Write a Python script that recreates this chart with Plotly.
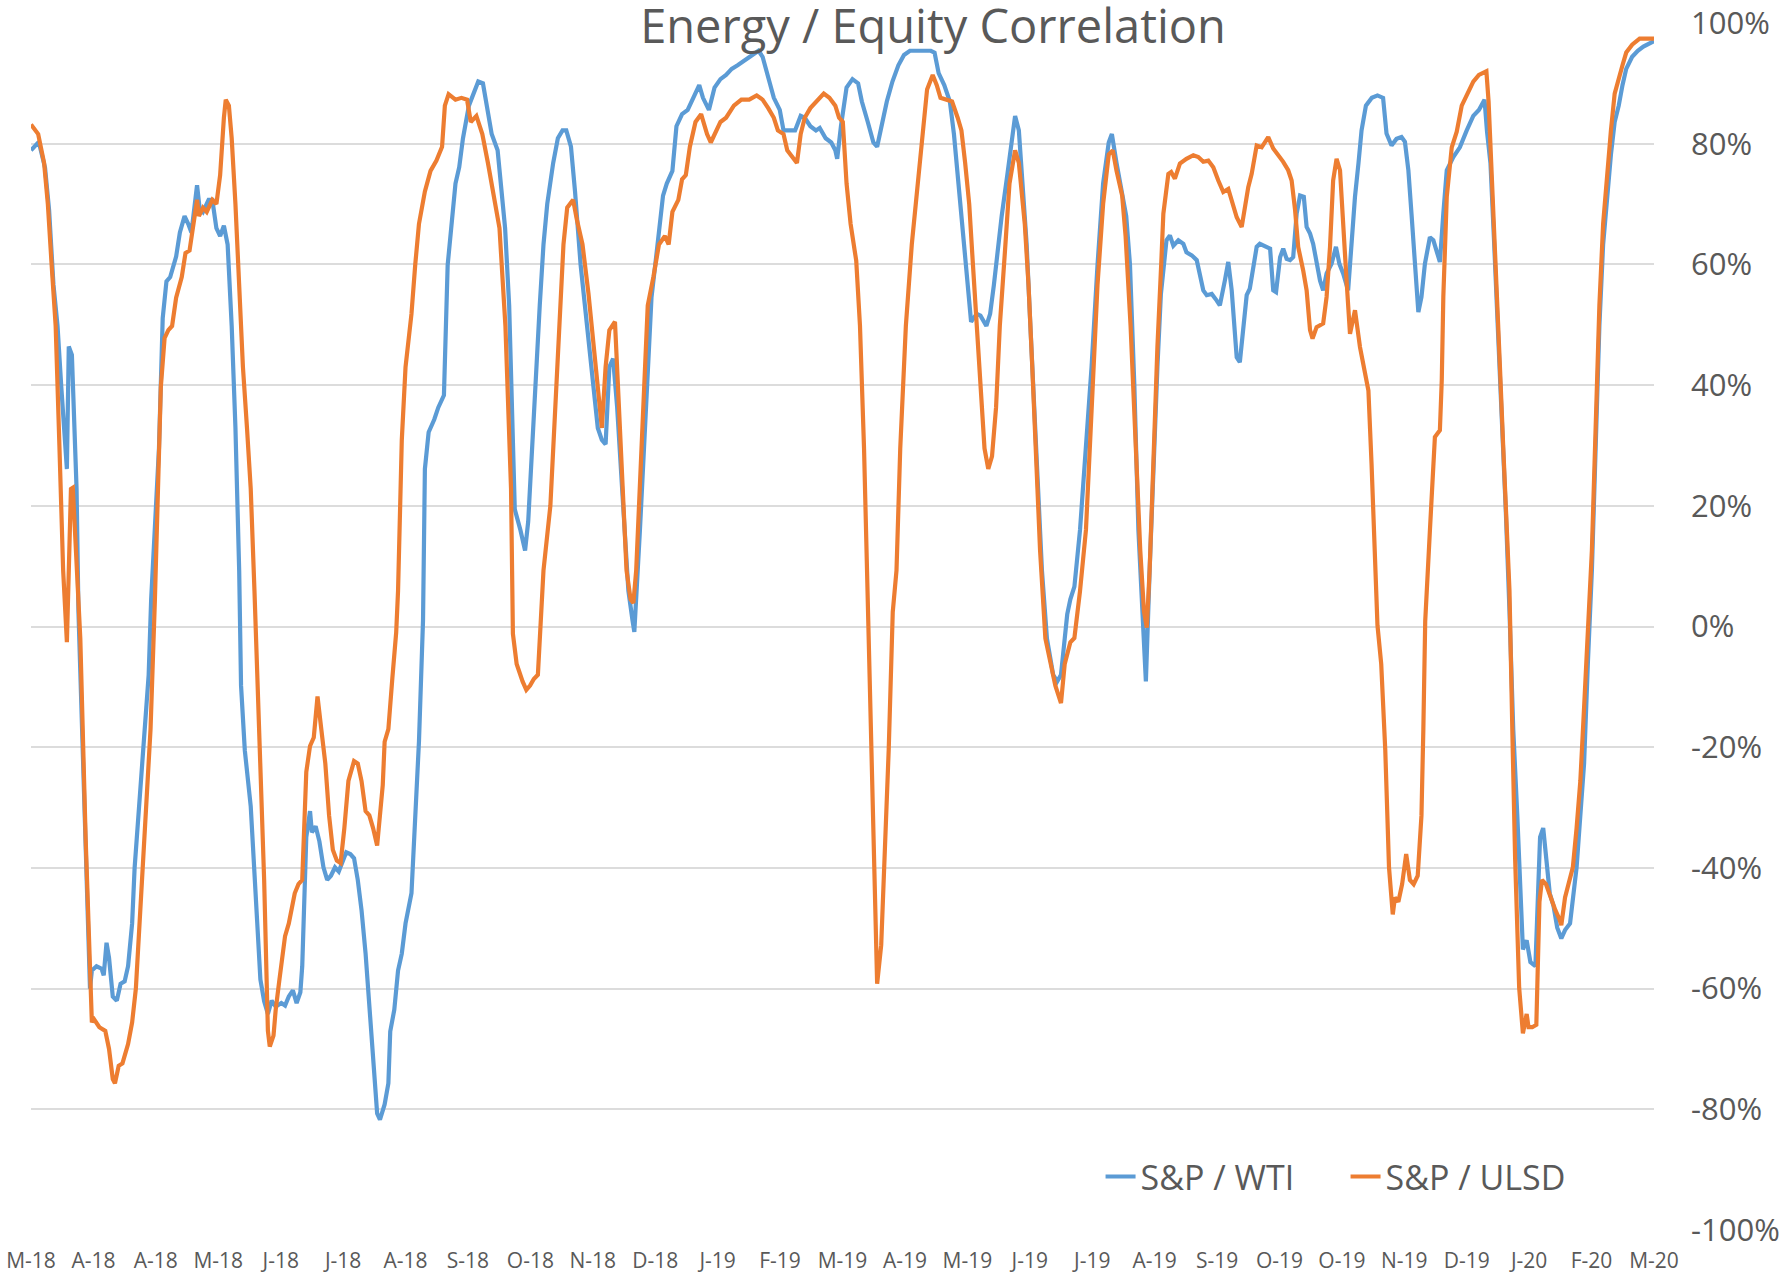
import plotly.graph_objects as go

# ---------------- data ----------------
# x = trading-day index (a label every 20 days), y = correlation in %
tick_labels = ["M-18", "A-18", "A-18", "M-18", "J-18", "J-18", "A-18", "S-18", "O-18",
               "N-18", "D-18", "J-19", "F-19", "M-19", "A-19", "M-19", "J-19", "J-19",
               "A-19", "S-19", "O-19", "O-19", "N-19", "D-19", "J-20", "F-20", "M-20"]
label_step = 20

wti_day = [0, 1.7, 2.5, 4.5, 5.8, 7.2, 8.5, 9.7, 10.9, 11.5, 12.1, 13.1, 14.6, 15.2, 17, 18.9,
           19.5, 21, 22.6, 23.3, 24.2, 25, 26.2, 27.5, 28.7, 30, 31.1, 32.4, 33.2, 35, 36.7,
           37.7, 38.5, 41, 42.2, 43.4, 44.6, 46.5, 47.7, 49.2, 50.4, 51.4, 53.2, 54, 55.1,
           56.9, 58.1, 59.4, 60.6, 61.8, 63, 64.3, 65.5, 66.7, 67.3, 68.5, 70.4, 71.6, 73.5,
           74.7, 75.9, 77.1, 78.4, 80.2, 81.4, 82.6, 83.9, 85.1, 86.3, 86.9, 87.6, 88.2, 89.4,
           90, 91.2, 92.4, 93.7, 94.9, 96.1, 97.4, 98.6, 99.8, 101, 102.3, 103.5, 104.7, 105.9,
           107.2, 108.4, 109.6, 110.9, 111.8, 113.3, 114.5, 115.1, 116.4, 117.6, 118.8, 120,
           121.9, 123.1, 124.3, 125.6, 126.2, 127.4, 129.2, 130.5, 132.3, 133.5, 134.2, 135.4,
           136, 137.2, 138.4, 140.3, 142.1, 143.3, 144.8, 146.4, 147.6, 149.5, 150.7, 151.9,
           153.2, 154.4, 155, 156.8, 158.3, 159.3, 160.5, 161.7, 163, 164.2, 165.4, 167.3,
           168.8, 170.3, 171.5, 173, 174.3, 176.1, 178.6, 180.4, 181.6, 182.9, 184.1, 185.3,
           186.5, 187.8, 189, 190.2, 191.4, 192.7, 193.3, 195.1, 196.3, 197.6, 198.8, 200,
           201.2, 202.5, 203.7, 205.5, 206.8, 208.6, 210.4, 212.3, 214.1, 215.3, 217.2, 219,
           220.9, 222.7, 224.5, 226.4, 228.2, 230.1, 231.9, 233.1, 234.4, 236.2, 238, 239.9,
           241.1, 243, 244.8, 246.6, 247.9, 249.7, 251.5, 252.7, 254.6, 256.4, 257.7, 258.3,
           259.5, 261.3, 263.2, 265, 266.2, 268.1, 269.9, 271.1, 273, 274.2, 276, 277.9, 279.7,
           281.6, 284, 288.3, 289.5, 290.8, 292.6, 294.4, 295.7, 296.9, 298.1, 299.3, 300.6,
           301.2, 303, 304.2, 306.1, 307.3, 308.5, 309.8, 311, 312.8, 314.1, 315.3, 316.5,
           317.7, 319, 320.2, 321.4, 322.6, 323.9, 325.5, 327.5, 328.8, 330, 331, 332, 333,
           334.3, 336.1, 338, 339.8, 341.7, 343.5, 345.3, 346.3, 347.8, 349.6, 350.9, 352.1,
           353.5, 354.8, 356, 357.2, 358.4, 359.7, 360.9, 362, 362.8, 363.8, 364.9, 366, 367.6,
           369.2, 370.2, 371.9, 373.5, 374.5, 375.6, 376.7, 378.3, 379.9, 380.9, 382.5, 383.6,
           384.7, 385.7, 386.3, 387.3, 388.4, 389.5, 390.5, 391.6, 392.7, 393.7, 395.3, 397,
           398, 398.9, 400.2, 401.2, 402.3, 403.4, 404.4, 405.5, 406.6, 407.8, 408.7, 409.8,
           410.8, 411.9, 413, 414, 415.1, 416.7, 418.1, 419.2, 420.4, 422, 423.1, 424.2, 425.3,
           426.3, 427.7, 429.6, 431.4, 433.2, 434.3, 435.9, 437.5, 439.1, 440.2, 441.3, 442.3,
           443.4, 444.5, 445.5, 446.6, 448.2, 449.3, 450.3, 451.4, 452.5, 453.6, 455.7, 457.8,
           460, 462.1, 463.9, 465.1, 465.7, 466.5, 467.6, 468.8, 470, 471.3, 472.5, 473.7,
           474.9, 476.2, 477.4, 478, 479.2, 480.4, 482, 482.9, 483.5, 484.5, 485.4, 486.6,
           487.8, 489, 490.3, 491.5, 493.1, 494, 495.2, 496.4, 497.6, 498.8, 500.1, 501.3,
           502.5, 503.7, 505, 506.2, 507.4, 508.7, 509.9, 511.1, 513, 514.8, 516.6, 519.1, 520]
wti_pct = [78.9, 79.9, 80.3, 76, 69, 56.6, 49.8, 39.7, 29.5, 26.1, 46.4, 45, 22.8, 2.5, -27.7, -60,
           -57, -56.3, -56.7, -57.8, -52.4, -54.9, -61.3, -62, -59.2, -58.8, -56.3, -49.2, -40, -27, -17,
           -8, 4.5, 29.5, 51.1, 57.2, 57.9, 61.3, 65.3, 68, 66.7, 65.3, 73.1, 69.4, 68.7,
           70.7, 70.7, 66, 64.7, 66.4, 63.3, 49.8, 32.9, 9.3, -9.8, -20.5, -29.8, -39.9, -58.5,
           -62.1, -64.2, -62, -63, -62.4, -62.8, -61.3, -60.3, -62.4, -60.6, -56.3, -45.6, -34.9, -30.6,
           -34.1, -33.1, -35.6, -39.9, -42, -41.3, -39.9, -40.6, -39.2, -37.4, -37.7, -38.4, -42, -47,
           -54.2, -63.5, -72.8, -80.7, -81.7, -79.2, -75.7, -67.1, -63.5, -57, -54.2, -49.2,
           -44.2, -31.3, -19.1, 1, 26.1, 32.2, 34.3, 36.3, 38.3, 59.9, 63.9, 70,
           73.4, 76.1, 80.9, 86.3, 88.6, 90.3, 90, 85.6, 81.6, 78.9, 72.1, 66,
           53.2, 29.5, 19.4, 16, 12.6, 17.4, 29.5, 43, 53.2, 63.3, 70, 76.8,
           80.9, 82.2, 82.2, 79.5, 72.1, 59.9, 47.8, 39.7, 32.9, 30.9, 30.2, 43,
           44.4, 36.3, 26.1, 16, 5.9, 1.1, -0.9, 16, 29.5, 43, 54.5, 59.9,
           66, 71.4, 73.4, 75.5, 82.9, 84.9, 85.6, 87.6, 89.7, 87.6, 85.6, 89.3,
           90.7, 91.4, 92.4, 93, 93.7, 94.4, 95.1, 95.4, 94.4, 91, 87.6, 85.6,
           82.2, 82.2, 82.2, 84.6, 84.3, 82.9, 82.2, 82.6, 80.9, 80.2, 78.9, 77.5,
           82.9, 89.3, 90.7, 90, 87, 83.6, 80.2, 79.5, 84.3, 87, 90.3, 93, 94.7,
           95.4, 95.4, 95.4, 95.1, 91.7, 89.7, 87, 81.6, 74.8, 68.7, 62, 55.2,
           50.5, 51.8, 51.5, 49.8, 51.8, 56.6, 63.3, 68, 74.8, 80.2, 84.6, 82.2,
           73.4, 63.3, 49.8, 36.3, 22.8, 9.3, -2, -8, -9.1, -8, -3, 2, 4.5,
           6.6, 16, 29.5, 43, 59.9, 73.4, 80.2, 81.6, 76.8, 72.1, 68, 60,
           40, 16, 2.5, -9.1, 9.3, 29.5, 43, 55, 59, 64, 64.8, 63.1, 64,
           63.4, 62, 61.5, 60.7, 58.5, 55.7, 54.9, 55.1, 54, 53.2, 57.3, 60.4,
           55.7, 49.1, 44.6, 43.8, 49.1, 54.9, 56, 59, 62.9, 63.4, 63.1, 62.6,
           55.7, 55.4, 61.2, 62.6, 60.9, 60.7, 61.2, 68.4, 71.4, 71.2, 66.2, 65.1,
           63.4, 60.1, 57.3, 55.7, 58.5, 60.1, 62.9, 60.1, 58.5, 55.7, 64, 71.2, 76.7,
           82.2, 86.3, 87.6, 88, 87.6, 81.7, 79.7, 80.8, 81.1, 80.3, 75.6, 68.4,
           61.2, 52.1, 54.6, 60.1, 64.5, 64, 62.3, 60.4, 68.4, 75.6, 77.8, 79.4,
           82.2, 84.6, 85.6, 86.6, 87.3, 82, 76.8, 63.3, 49.8, 36.3, 19.4, 2.5,
           -17, -31.3, -49.2, -53.5, -52, -55.6, -56.3, -45.6, -34.9, -33.4, -38.4, -44.2,
           -46.3, -49.9, -51.7, -50.3, -49.2, -45.6, -39.9, -31.3, -22.7, -6.2, 9.3, 29.5,
           49.8, 63.3, 71.4, 78.2, 83.6, 86.3, 89.7, 92.4, 94.4, 95.4, 96.1, 96.8, 97]

ulsd_day = [0, 2.3, 4.2, 5.4, 6.6, 7.9, 9.1, 10.3, 11.5, 12.8, 13.4, 14.6, 15.8, 17.5, 19.5, 20.1,
            21.9, 23.8, 25, 26.2, 26.9, 28.1, 29.3, 31.1, 32.4, 33.6, 35, 36, 37.2, 38.3, 39.7,
            40.5, 41.6, 42.8, 44, 45.2, 46.5, 48.3, 49.5, 50.8, 52, 53.2, 53.8, 55.1, 56.3,
            58.1, 59.4, 60.6, 61.8, 62.4, 63.4, 64.3, 65.5, 66.7, 67.9, 69.2, 70.4, 71.6, 73.5,
            74.7, 75.9, 76.5, 77.7, 78.4, 79.6, 80.8, 81.4, 82.6, 84.5, 85.7, 86.9, 88.2, 89.4,
            90.6, 91.8, 93, 94.3, 95.5, 96.7, 98, 99.2, 100.4, 101.7, 103.5, 104.7, 105.9,
            107.2, 108.4, 109.6, 110.9, 112.1, 112.7, 113.3, 114.5, 115.8, 117, 117.6, 118.8,
            120, 121.9, 123.1, 124.3, 126.2, 128, 129.9, 131.7, 132.6, 133.8, 136, 137.9,
            139.7, 140.9, 142.7, 144.6, 146.4, 148.3, 150.1, 152, 153.8, 154.4, 155.6, 157.5,
            158.7, 159.9, 161.1, 162.4, 163, 164.2, 166.4, 168.8, 170.6, 171.8, 173.7, 174.9,
            176.7, 178.6, 180.4, 181.6, 182.9, 184.1, 185.3, 187.1, 188.4, 189.6, 190.8, 192.1,
            193, 193.9, 195.1, 196.3, 197.6, 199.4, 201.2, 203.1, 204.3, 205.5, 207.4, 208.6,
            209.8, 211.1, 212.9, 214.7, 216.6, 217.8, 219, 220.9, 222.7, 225.2, 227.6, 230.1,
            232.5, 234.4, 236.2, 238, 239.3, 241.1, 242.3, 244.2, 245.4, 246.6, 247.9, 249.7,
            252.1, 254, 255.8, 257.7, 258.9, 260.1, 261.3, 262.6, 264.4, 265.6, 266.9, 268.1,
            268.7, 269.9, 271.1, 272.4, 273.6, 274.8, 276.1, 277.3, 278.5, 280.3, 282.2, 284,
            285.9, 287.1, 288.9, 290.2, 291.4, 293.2, 295.1, 296.9, 298.1, 299.3, 300.6, 301.8,
            303, 304.2, 305.5, 306.7, 307.9, 309.2, 310.4, 312.2, 313.5, 315.3, 316.5, 318.4,
            319.6, 320.8, 322, 323.3, 325, 326.5, 328.2, 330, 331.2, 333, 334.3, 335.2, 336.1,
            338, 339.8, 341.7, 343.5, 345.3, 346.6, 347.8, 349.6, 350.7, 352.3, 354.2, 355.4,
            356.6, 357.5, 358.4, 359.7, 360.9, 362.1, 362.8, 364.4, 365.3, 366.5, 368.1, 370.2,
            372.4, 374, 375.6, 377.2, 378.8, 380.4, 382, 383.6, 385.2, 386.3, 387.9, 388.9,
            390, 391.1, 392.7, 394.3, 396.4, 398, 399.6, 401.2, 402.8, 403.9, 405, 406, 407.6,
            408.7, 409.8, 410.6, 411.9, 414, 415.1, 416.2, 417.2, 418.3, 419.4, 420.4, 421.5,
            422.6, 424.2, 425.8, 427.4, 428.5, 429.5, 430.3, 431.4, 432.6, 433.9, 435.1, 436.3,
            437, 438.1, 439.3, 440.6, 441.8, 443, 444.3, 445.5, 446.1, 446.7, 448.2, 449.8,
            451.4, 452, 452.5, 453.6, 455.2, 456.8, 458.4, 460.2, 462.1, 463.9, 465.1, 466.3,
            467, 468.2, 469.6, 470.6, 471.7, 472.8, 473.7, 474.6, 475.5, 476.8, 478, 479.2,
            479.8, 481, 482.3, 483.3, 484.1, 485.4, 487.2, 488.4, 489.7, 490.3, 491.5, 492.7,
            494, 495.2, 496.4, 497.6, 498.8, 500.1, 501.3, 502.5, 503.7, 505, 506.2, 507.4,
            508.7, 509.9, 511.1, 513, 515.4, 517.9, 520]
ulsd_pct = [83.2, 81.6, 76.8, 70, 60, 49.8, 30, 9.3, -2.6, 22.8, 23, 9.3, -2, -35, -65.6, -65,
            -66.4, -67, -70, -75, -75.7, -72.8, -72.4, -69.2, -65.6, -60, -47, -38.4, -27, -17, 4.5,
            22, 39.7, 47.8, 49.1, 49.8, 54.5, 57.9, 61.9, 62.3, 66, 70.7, 68, 69.4, 68.7,
            70.7, 70, 74.8, 84.3, 87.3, 86.3, 80.9, 70, 56.6, 43, 32.9, 22.8, 5.9, -24.1,
            -42, -67, -69.6, -67.8, -63.5, -58.5, -54.2, -51.3, -49.2, -44.2, -42.7, -42, -24.1, -19.8,
            -18.4, -11.6, -17, -22.7, -31.3, -37, -38.8, -39.2, -33.4, -25.6, -22.3, -22.7, -25.6,
            -30.6, -31.3, -33.4, -36.3, -30.6, -26.3, -19.1, -17, -8.4, -1, 5.9, 30.9,
            43, 51.8, 59.9, 66.7, 72.1, 75.5, 77.2, 79.5, 86.3, 88.2, 87.3, 87.6,
            87.3, 83.6, 84.6, 81.6, 76.8, 71.4, 66, 49.8, 22.8, -1.2, -6.2, -9.1,
            -10.5, -9.8, -8.7, -8, -2.6, 9.3, 20, 43, 63.3, 69.4, 70.7, 67.4,
            63.3, 55.2, 46.4, 39.7, 32.9, 43, 49.1, 50.5, 36.3, 22.8, 9.3, 4.5,
            3.9, 9.3, 22.8, 39.7, 53.2, 57.9, 63.3, 64.7, 63.3, 68.7, 70.7, 74.1,
            74.8, 79.5, 83.6, 84.9, 81.6, 80.2, 81.6, 83.6, 84.3, 86.3, 87.3, 87.3,
            88, 87.3, 85.9, 84.3, 82.2, 81.6, 78.9, 77.5, 76.8, 81.6, 84.3, 85.9,
            87.3, 88.3, 87.6, 86.3, 84.3, 83.6, 73.4, 66.7, 60.6, 49.8, 29.5, 2.5,
            -9.8, -31.3, -59.2, -52.8, -38.4, -20.5, 2.4, 9.3, 29.5, 49.8, 63.3, 73.4,
            83.6, 89, 91.4, 89.7, 87.6, 87.3, 87, 84.3, 82.2, 76.8, 70, 59.9,
            49.8, 39.7, 29.5, 26.1, 28.2, 36.3, 49.8, 63.3, 73.4, 78.9, 76.8, 66.7,
            56.6, 43, 29.5, 12.6, -2, -6, -9.8, -12.7, -6.2, -2.6, -1.9, 2, 5.9,
            16, 36.3, 56.6, 70, 78.2, 78.9, 75.5, 71.4, 64.7, 49.8, 26.1, 12.6,
            2.5, -0.2, 9.3, 29.5, 46.4, 59.9, 68.4, 75, 75.3, 74.2, 76.7, 77.5,
            78.1, 77.8, 77, 77.2, 76.1, 73.9, 72, 72.5, 70, 67.8, 66.2, 69.5,
            72.8, 75, 79.7, 79.4, 81.1, 79.2, 78.1, 77, 75.6, 73.9, 69, 62.9, 59,
            55.7, 49.1, 47.7, 49.6, 50.2, 54.6, 62.9, 73.9, 77.5, 75.6, 65.6, 57.3,
            48.5, 52.4, 46.3, 42.4, 39.1, 27, 15.9, 0.2, -6.2, -20.5, -39.9, -47.7,
            -44.9, -45.6, -42.7, -37.7, -42, -42.7, -41.3, -31.3, -17, 0.9, 15.9, 31.4,
            32.5, 40.8, 54.6, 71.2, 79.4, 82, 86.3, 88.3, 90.3, 91.4, 91.7, 92,
            87, 73.4, 57.3, 43.5, 29.7, 15.9, 5.9, -17, -38.4, -59.9, -67.4, -64.2,
            -66.4, -66.4, -66, -45.6, -42, -42.7, -45.6, -47, -48.5, -49.5, -44.9, -42.7,
            -39.9, -33.4, -25.6, -13.4, 0.9, 12.6, 32.9, 53.2, 66.7, 75.5, 82.2, 88.3,
            91, 93, 95.1, 96.4, 97.4, 97.4, 97.4]

y_ticks = [-100, -80, -60, -40, -20, 0, 20, 40, 60, 80, 100]
y_tick_labels = ["-100%", "-80%", "-60%", "-40%", "-20%", "0%", "20%", "40%", "60%", "80%", "100%"]

# ---------------- figure ----------------
FONT = "Open Sans"
TXT = "#595959"

fig = go.Figure()
fig.add_trace(go.Scatter(x=wti_day, y=wti_pct, mode="lines", name="S&P / WTI",
                         line=dict(color="#5B9BD5", width=4.2)))
fig.add_trace(go.Scatter(x=ulsd_day, y=ulsd_pct, mode="lines", name="S&P / ULSD",
                         line=dict(color="#ED7D31", width=4.2)))

tick_vals = [i * label_step for i in range(len(tick_labels))]

fig.update_layout(
    width=1786, height=1276,
    margin=dict(l=31, r=132, t=23, b=46, pad=0, autoexpand=False),
    paper_bgcolor="white", plot_bgcolor="white",
    font=dict(family=FONT, color=TXT),
    title=dict(text="Energy / Equity Correlation", font=dict(family=FONT, size=47, color=TXT),
               x=0.5224, xref="container", xanchor="center",
               y=0.9795, yref="container", yanchor="middle", automargin=False),
    showlegend=True,
    legend=dict(orientation="h", x=0.659, xanchor="left", y=0.044, yanchor="middle",
                font=dict(family=FONT, size=34, color=TXT), bgcolor="rgba(0,0,0,0)",
                entrywidth=200, entrywidthmode="pixels"),
    xaxis=dict(range=[0, tick_vals[-1]], tickmode="array", tickvals=tick_vals, ticktext=tick_labels,
               showgrid=False, zeroline=False, showline=False, ticks="", automargin=False,
               ticklabeloverflow="allow",
               tickfont=dict(family=FONT, size=21, color=TXT), ticklabelstandoff=16),
    yaxis=dict(range=[-100, 100], side="right", tickmode="array", tickvals=y_ticks,
               ticktext=y_tick_labels, showgrid=True, gridcolor="#DCDCDC", gridwidth=1.6,
               zeroline=False, showline=False, ticks="", automargin=False,
               ticklabeloverflow="allow",
               tickfont=dict(family=FONT, size=31, color=TXT), ticklabelstandoff=36),
)

# drop the browser's default 8px body margin so the figure fills the window exactly
fig.write_html("out.html", config={"displayModeBar": False},
               post_script="document.body.style.margin='0px';")
